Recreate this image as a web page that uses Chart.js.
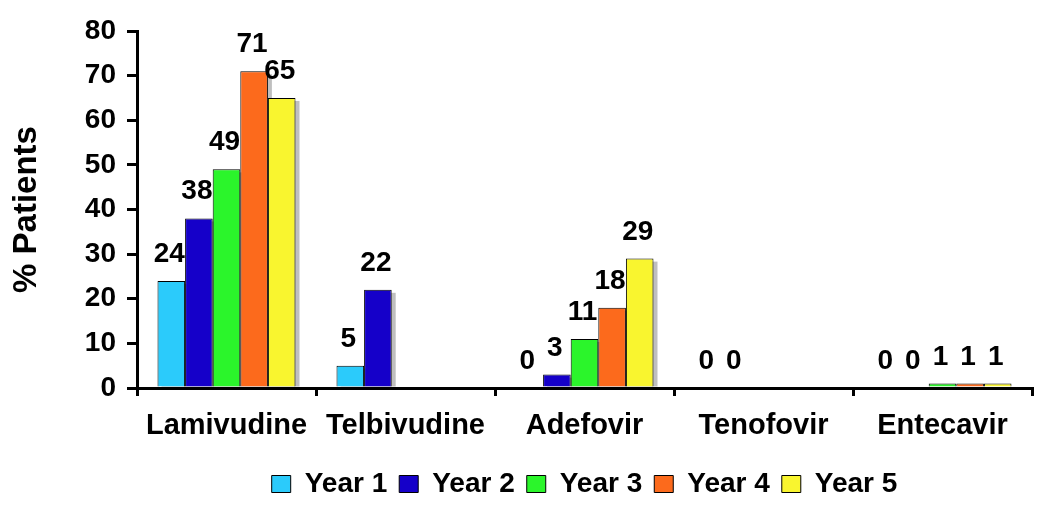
<!DOCTYPE html>
<html><head><meta charset="utf-8">
<script src="https://cdn.jsdelivr.net/npm/chart.js@4.4.1/dist/chart.umd.min.js"></script>
<style>html,body{margin:0;padding:0;background:#fff;}#wrap{width:1050px;height:532px;}</style>
</head><body><div id="wrap"><canvas id="c" width="1050" height="532"></canvas></div>
<script>
const categories = ['Lamivudine', 'Telbivudine', 'Adefovir', 'Tenofovir', 'Entecavir'];
const seriesNames = ['Year 1', 'Year 2', 'Year 3', 'Year 4', 'Year 5'];
const year1 = [24, 5, 0, 0, 0];
const year2 = [38, 22, 3, 0, 0];
const year3 = [49, null, 11, null, 1];
const year4 = [71, null, 18, null, 1];
const year5 = [65, null, 29, null, 1];
const yTickValues = [0, 10, 20, 30, 40, 50, 60, 70, 80];
const seriesColors = ['#2BCBFB', '#1500C9', '#2BF52B', '#FC6A1C', '#F9F52F'];

const FONT = '"Liberation Sans", Arial, sans-serif';
const seriesValues = [year1, year2, year3, year4, year5];

const shadowPlugin = {
  id: 'barShadow',
  beforeDatasetsDraw(chart) {
    const ctx = chart.ctx;
    const a = chart.chartArea;
    ctx.save();
    ctx.beginPath();
    ctx.rect(a.left, a.top - 40, a.right - a.left + 10, a.bottom - a.top + 40);
    ctx.clip();
    ctx.fillStyle = 'rgba(0,0,0,0.25)';
    chart.data.datasets.forEach((ds, i) => {
      const meta = chart.getDatasetMeta(i);
      meta.data.forEach((bar, j) => {
        const v = ds.data[j];
        if (v === null || v === undefined || v <= 0) return;
        const p = bar.getProps(['x', 'y', 'base', 'width'], true);
        ctx.fillRect(p.x - p.width / 2 + 4, p.y + 3, p.width, p.base - p.y - 3);
      });
    });
    ctx.restore();
  }
};

const dataLabelPlugin = {
  id: 'dataLabels',
  afterDatasetsDraw(chart) {
    const ctx = chart.ctx;
    ctx.save();
    ctx.font = 'bold 28px ' + FONT;
    ctx.fillStyle = '#000';
    ctx.textAlign = 'center';
    ctx.textBaseline = 'alphabetic';
    chart.data.datasets.forEach((ds, i) => {
      const meta = chart.getDatasetMeta(i);
      meta.data.forEach((bar, j) => {
        const v = ds.data[j];
        if (v === null || v === undefined) return;
        const p = bar.getProps(['x', 'y'], true);
        ctx.fillText(String(v), p.x - 2, p.y - 19);
      });
    });
    ctx.restore();
  }
};

new Chart(document.getElementById('c'), {
  type: 'bar',
  data: {
    labels: categories,
    datasets: seriesNames.map((name, i) => ({
      label: name,
      data: seriesValues[i],
      backgroundColor: seriesColors[i],
      borderColor: '#000',
      borderWidth: 1,
      categoryPercentage: 0.771,
      barPercentage: 1.0
    }))
  },
  options: {
    responsive: false,
    animation: false,
    layout: { padding: { left: 0, right: 18, top: 31, bottom: 24 } },
    plugins: {
      tooltip: { enabled: false },
      legend: {
        position: 'bottom',
        fullSize: false,
        labels: {
          boxWidth: 19,
          boxHeight: 17,
          padding: 12,
          color: '#000',
          font: { family: FONT, size: 28, weight: 'bold' }
        }
      }
    },
    scales: {
      x: {
        afterFit(scale) { scale.height = 70; },
        grid: { display: true, drawOnChartArea: false, drawTicks: true, tickLength: 8, color: '#000', lineWidth: 3, offset: true, z: 1 },
        border: { display: true, color: '#000', width: 3, z: 1 },
        ticks: { color: '#000', padding: 13, font: { family: FONT, size: 29, weight: 'bold' } }
      },
      y: {
        min: 0,
        max: 80,
        afterFit(scale) { scale.width = 137; },
        afterBuildTicks(scale) { scale.ticks = yTickValues.map(v => ({ value: v })); },
        grid: { display: true, drawOnChartArea: false, drawTicks: true, tickLength: 10, color: '#000', lineWidth: 3, z: 1 },
        border: { display: true, color: '#000', width: 3, z: 1 },
        ticks: { color: '#000', padding: 11, font: { family: FONT, size: 28, weight: 'bold' } },
        title: {
          display: true,
          text: '% Patients',
          color: '#000',
          padding: { top: 7, bottom: 0 },
          font: { family: FONT, size: 33, weight: 'bold' }
        }
      }
    }
  },
  plugins: [shadowPlugin, dataLabelPlugin]
});
</script>
</body></html>
